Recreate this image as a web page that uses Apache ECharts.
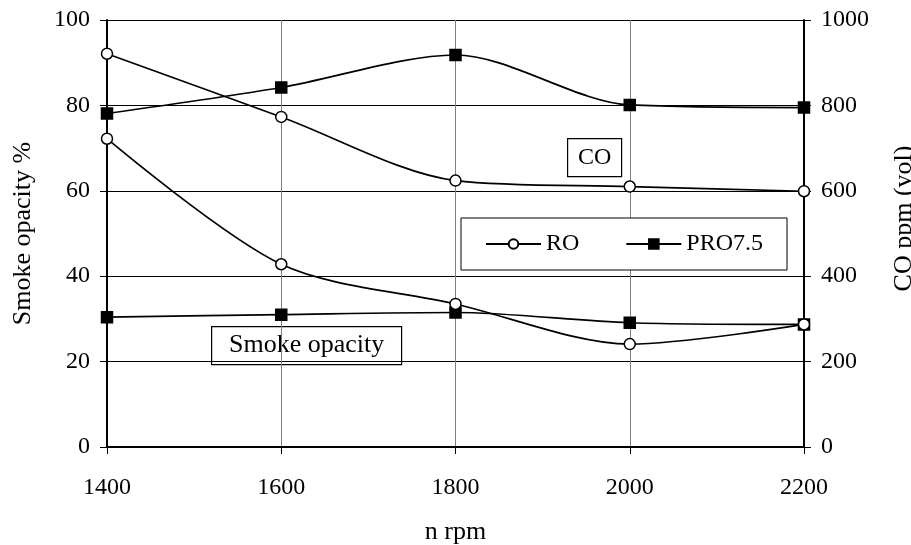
<!DOCTYPE html>
<html>
<head>
<meta charset="utf-8">
<script src="https://cdn.jsdelivr.net/npm/echarts@6/dist/echarts.min.js"></script>
<style>
  html, body { margin: 0; padding: 0; background: #fff; }
  #chart { width: 911px; height: 545px; }
</style>
</head>
<body>
<div id="chart"></div>
<script>
var rpm = [1400, 1600, 1800, 2000, 2200];
var smokeRO = [72.2, 42.8, 33.5, 24.1, 28.7];
var smokePRO = [30.4, 31.0, 31.5, 29.1, 28.7];
var coRO = [921, 773, 624, 610, 599];
var coPRO = [781, 842, 918, 801, 795];

var font = 'Liberation Serif';

function pairs(xs, ys) {
    return xs.map(function (x, i) { return [x, ys[i]]; });
}

function lineSeries(name, data, axis, symbol) {
    return {
        name: name,
        type: 'line',
        yAxisIndex: axis,
        data: pairs(rpm, data),
        smooth: 0.3,
        symbol: symbol,
        symbolSize: 11,
        showAllSymbol: true,
        lineStyle: { color: '#000', width: 1.7 },
        itemStyle: {
            color: symbol === 'rect' ? '#000' : '#fff',
            borderColor: '#000',
            borderWidth: 1.5
        },
        emphasis: { disabled: true },
        z: symbol === 'rect' ? 3 : 4
    };
}

// plain numbers, no thousands separator
function plain(v) { return String(v); }

document.addEventListener("DOMContentLoaded", () => {
    var chart = echarts.init(document.querySelector("#chart"));
    chart.setOption({
        animation: false,
        textStyle: { fontFamily: font, color: '#000' },
        grid: { left: 107, right: 107, top: 20, bottom: 98, outerBoundsMode: 'none' },
        legend: {
            left: 461,
            top: 218,
            padding: [14, 24, 14, 24],
            itemGap: 46,
            itemWidth: 55,
            itemHeight: 12,
            borderColor: '#000',
            borderWidth: 1,
            backgroundColor: '#fff',
            textStyle: { fontFamily: font, fontSize: 24, color: '#000' },
            data: ['RO', 'PRO7.5']
        },
        xAxis: {
            type: 'value',
            min: 1400,
            max: 2200,
            interval: 200,
            name: 'n rpm',
            nameLocation: 'middle',
            nameGap: 72,
            nameTextStyle: { fontFamily: font, fontSize: 26, color: '#000' },
            axisLine: { lineStyle: { color: '#000', width: 2 } },
            axisTick: { show: true, length: 7, lineStyle: { color: '#000' } },
            axisLabel: { fontFamily: font, fontSize: 24, color: '#000', margin: 29, formatter: plain },
            splitLine: { show: true, lineStyle: { color: '#808080', width: 1 } }
        },
        yAxis: [{
            type: 'value',
            min: 0,
            max: 100,
            interval: 20,
            name: 'Smoke opacity %',
            nameLocation: 'middle',
            nameGap: 71,
            nameTextStyle: { fontFamily: font, fontSize: 26, color: '#000' },
            axisLine: { show: true, lineStyle: { color: '#000', width: 2 } },
            axisTick: { show: true, length: 7, lineStyle: { color: '#000' } },
            axisLabel: { fontFamily: font, fontSize: 24, color: '#000', margin: 17, formatter: plain },
            splitLine: { show: true, lineStyle: { color: '#000', width: 1 } }
        }, {
            type: 'value',
            min: 0,
            max: 1000,
            interval: 200,
            position: 'right',
            name: 'CO ppm (vol)',
            nameLocation: 'middle',
            nameRotate: 90,
            nameGap: 87,
            nameTextStyle: { fontFamily: font, fontSize: 26, color: '#000', padding: [0, 0, 0, 30] },
            axisLine: { show: true, lineStyle: { color: '#000', width: 2 } },
            axisTick: { show: true, length: 7, lineStyle: { color: '#000' } },
            axisLabel: { fontFamily: font, fontSize: 24, color: '#000', margin: 17, formatter: plain },
            splitLine: { show: false }
        }],
        graphic: [{
            type: 'group',
            left: 567,
            top: 138,
            children: [{
                type: 'rect',
                shape: { x: 0, y: 0, width: 54, height: 38 },
                style: { fill: '#fff', stroke: '#000', lineWidth: 1.2 }
            }, {
                type: 'text',
                x: 27, y: 19,
                style: { text: 'CO', font: '24px "Liberation Serif"', fill: '#000', align: 'center', verticalAlign: 'middle' }
            }]
        }, {
            type: 'group',
            left: 211,
            top: 326,
            children: [{
                type: 'rect',
                shape: { x: 0, y: 0, width: 190, height: 38 },
                style: { fill: '#fff', stroke: '#000', lineWidth: 1.2 }
            }, {
                type: 'text',
                x: 95, y: 19,
                style: { text: 'Smoke opacity', font: '26px "Liberation Serif"', fill: '#000', align: 'center', verticalAlign: 'middle' }
            }]
        }],
        series: [
            lineSeries('RO', smokeRO, 0, 'circle'),
            lineSeries('PRO7.5', smokePRO, 0, 'rect'),
            lineSeries('RO', coRO, 1, 'circle'),
            lineSeries('PRO7.5', coPRO, 1, 'rect')
        ]
    });
});
</script>
</body>
</html>
